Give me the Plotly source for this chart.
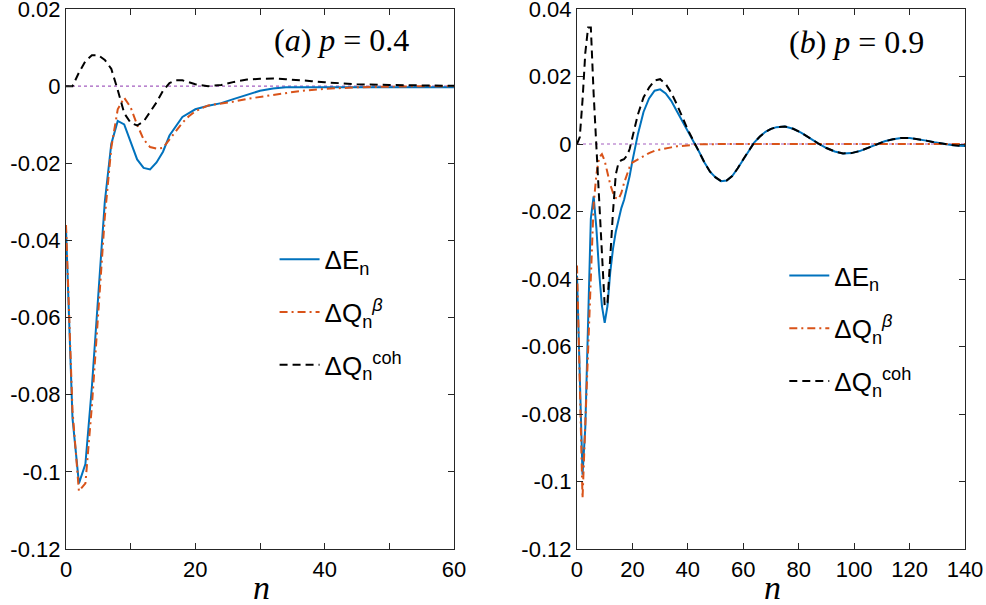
import plotly.graph_objects as go
from plotly.subplots import make_subplots

# ---- data: panel (a), p = 0.4 ----
n_a = [0, 1, 2, 3, 4, 5, 6, 7, 8, 9, 10, 11, 12, 13, 14, 15, 16, 17, 18, 19, 20,
       22, 24, 26, 28, 30, 32, 34, 36, 38, 40, 45, 50, 55, 60]
dE_a = [-0.037, -0.086, -0.103, -0.098, -0.078, -0.054, -0.030, -0.015, -0.009, -0.0099,
        -0.0145, -0.019, -0.0212, -0.0216, -0.0198, -0.017, -0.0128, -0.0105, -0.008, -0.007,
        -0.006, -0.0051, -0.0044, -0.0033, -0.0022, -0.0012, -0.0006, -0.0003, -0.0003, -0.0003,
        -0.0003, -0.0003, -0.0003, -0.0003, -0.0003]
dQb_a = [-0.036, -0.084, -0.105, -0.103, -0.083, -0.058, -0.034, -0.016, -0.006, -0.003,
         -0.0055, -0.010, -0.0138, -0.0158, -0.0162, -0.016, -0.0138, -0.0115, -0.0095, -0.0078,
         -0.0065, -0.005, -0.0045, -0.004, -0.0033, -0.0028, -0.0024, -0.0018, -0.0013, -0.001,
         -0.0007, -0.0003, -0.0001, 0.0, 0.0]
dQc_a = [0.0, 0.0, 0.0035, 0.0065, 0.008, 0.008, 0.0068, 0.0045, -0.001, -0.007,
         -0.0095, -0.0102, -0.0092, -0.0068, -0.0042, -0.0012, 0.0008, 0.0015, 0.0015, 0.001,
         0.0005, 0.0, 0.0003, 0.0011, 0.0017, 0.0019, 0.002, 0.0018, 0.0016, 0.0013,
         0.001, 0.0005, 0.0003, 0.0002, 0.0001]

# ---- data: panel (b), p = 0.9 ----
n_b = [0, 1, 2, 3, 4, 5, 6, 7, 8, 9, 10, 11, 12, 13, 14, 15, 16, 17, 18, 19, 20,
       22, 24, 26, 28, 30, 32, 34, 36, 38, 40, 42, 44, 46, 48, 50, 52, 54, 56, 58, 60,
       62, 64, 66, 68, 70, 72, 75, 78, 81, 84, 87, 90, 93, 96, 99, 102, 105, 108, 111,
       114, 117, 120, 123, 126, 129, 132, 135, 138, 140]
tail_b = [0.0042, 0.001, -0.0022, -0.0055, -0.0082, -0.0099, -0.011, -0.0108, -0.0095, -0.0072,
          -0.0045, -0.0018, 0.0005, 0.0022, 0.0036, 0.0045, 0.005, 0.0052, 0.0045, 0.0033,
          0.0017, 0.0002, -0.0012, -0.0022, -0.0028, -0.0027, -0.0021, -0.0012, -0.0002, 0.0008,
          0.0014, 0.0018, 0.0018, 0.0015, 0.001, 0.0005, 0.0, -0.0003, -0.0005, -0.0006]
dE_b = [-0.039, -0.072, -0.098, -0.084, -0.052, -0.022, -0.0155, -0.025, -0.038, -0.048,
        -0.053, -0.048, -0.038, -0.031, -0.026, -0.022, -0.019, -0.0165, -0.013, -0.0095,
        -0.005, 0.003, 0.0095, 0.0135, 0.0158, 0.0162, 0.015, 0.0128, 0.0098, 0.0068] + tail_b
dQb_b = [-0.036, -0.075, -0.105, -0.083, -0.062, -0.036, -0.018, -0.009, -0.004, -0.003,
         -0.005, -0.0085, -0.012, -0.0145, -0.016, -0.0163, -0.0145, -0.0115, -0.0088, -0.0068,
         -0.0055, -0.0045, -0.0036, -0.0027, -0.002, -0.0016, -0.0013, -0.001, -0.0007, -0.0005,
         -0.0003, -0.0002, -0.0001, -0.0001, 0.0, 0.0, 0.0, 0.0, 0.0, 0.0,
         0.0, 0.0, 0.0, 0.0, 0.0, 0.0, 0.0, 0.0, 0.0, 0.0,
         0.0, 0.0, 0.0, 0.0, 0.0, 0.0, 0.0, 0.0, 0.0, 0.0,
         0.0, 0.0, 0.0, 0.0, 0.0, 0.0, 0.0, 0.0, 0.0, 0.0]
dQc_b = [0.0, 0.002, 0.013, 0.027, 0.0345, 0.0345, 0.015, -0.001, -0.016, -0.035,
         -0.048, -0.047, -0.033, -0.02, -0.009, -0.0055, -0.0048, -0.0045, -0.0035, -0.0015,
         0.002, 0.0088, 0.0138, 0.0167, 0.0188, 0.0192, 0.0178, 0.0152, 0.0118, 0.008] + tail_b

zero_a = [[0, 60], [0, 0]]
zero_b = [[0, 140], [0, 0]]

names = ["ΔE<sub>n</sub>", "ΔQ<sub>n</sub><sup><i>β</i></sup>", "ΔQ<sub>n</sub><sup>coh</sup>"]
colors = ["#0072BD", "#D95319", "#000000"]
dashes = ["solid", "8px,4px,2px,4px", "8px,5px"]

xt_a = [0, 10, 20, 30, 40, 50, 60]
xl_a = ["0", "", "20", "", "40", "", "60"]
xt_b = [0, 20, 40, 60, 80, 100, 120, 140]
yt_a = [0.02, 0, -0.02, -0.04, -0.06, -0.08, -0.1, -0.12]
yl_a = ["0.02", "0", "-0.02", "-0.04", "-0.06", "-0.08", "-0.1", "-0.12"]
yt_b = [0.04, 0.02, 0, -0.02, -0.04, -0.06, -0.08, -0.1, -0.12]
yl_b = ["0.04", "0.02", "0", "-0.02", "-0.04", "-0.06", "-0.08", "-0.1", "-0.12"]

fig = make_subplots(rows=1, cols=2)

# zero reference lines
fig.add_trace(go.Scatter(x=zero_a[0], y=zero_a[1], mode="lines", showlegend=False,
                         line=dict(color="#A45EC0", width=1.2, dash="dot")), row=1, col=1)
fig.add_trace(go.Scatter(x=zero_b[0], y=zero_b[1], mode="lines", showlegend=False,
                         line=dict(color="#A45EC0", width=1.2, dash="dot")), row=1, col=2)

for i, (ys, nm, c, d) in enumerate(zip([dE_a, dQb_a, dQc_a], names, colors, dashes)):
    fig.add_trace(go.Scatter(x=n_a, y=ys, name=nm, mode="lines", legend="legend",
                             legendgroup="a%d" % i,
                             line=dict(color=c, width=2, dash=d)), row=1, col=1)
for i, (ys, nm, c, d) in enumerate(zip([dE_b, dQb_b, dQc_b], names, colors, dashes)):
    fig.add_trace(go.Scatter(x=n_b, y=ys, name=nm, mode="lines", legend="legend2",
                             legendgroup="b%d" % i,
                             line=dict(color=c, width=2, dash=d)), row=1, col=2)

axis_style = dict(showline=True, linecolor="#262626", linewidth=1.2, mirror="allticks",
                  ticks="inside", ticklen=6, tickcolor="#262626", showgrid=False, zeroline=False,
                  automargin=False, ticklabeloverflow="allow",
                  tickfont=dict(family="Liberation Sans, Arial", size=22, color="#000000"))

fig.update_xaxes(axis_style)
fig.update_yaxes(axis_style)
fig.update_xaxes(range=[0, 60], tickvals=xt_a, ticktext=xl_a, domain=[0, 0.4316], row=1, col=1)
fig.update_xaxes(range=[0, 140], tickvals=xt_b, domain=[0.5684, 1], row=1, col=2)
fig.update_yaxes(range=[-0.12, 0.02], tickvals=yt_a, ticktext=yl_a, row=1, col=1)
fig.update_yaxes(range=[-0.12, 0.04], tickvals=yt_b, ticktext=yl_b, row=1, col=2)

legend_style = dict(bgcolor="rgba(0,0,0,0)", borderwidth=0, xanchor="left", yanchor="top",
                    font=dict(family="Liberation Sans, Arial", size=26, color="#000000"),
                    itemwidth=40, tracegroupgap=16)
fig.update_layout(
    legend=dict(legend_style, x=0.232, y=0.58),
    legend2=dict(legend_style, x=0.799, y=0.55),
)

serif = dict(family="Liberation Serif, Times New Roman", size=32, color="#000000")
fig.add_annotation(text="(<i>a</i>) <i>p</i> = 0.4", x=0.3065, y=0.9426, xref="paper", yref="paper",
                   xanchor="center", yanchor="middle", showarrow=False, font=serif)
fig.add_annotation(text="(<i>b</i>) <i>p</i> = 0.9", x=0.879, y=0.939, xref="paper", yref="paper",
                   xanchor="center", yanchor="middle", showarrow=False, font=serif)
fig.add_annotation(text="<i>n</i>", x=0.218, y=-0.071, xref="paper", yref="paper",
                   xanchor="center", yanchor="middle", showarrow=False, font=dict(serif, size=34))
fig.add_annotation(text="<i>n</i>", x=0.786, y=-0.071, xref="paper", yref="paper",
                   xanchor="center", yanchor="middle", showarrow=False, font=dict(serif, size=34))

fig.update_layout(width=986, height=605, autosize=False,
                  margin=dict(l=66, r=21, t=9, b=56),
                  plot_bgcolor="white", paper_bgcolor="white")

fig.write_html("out.html", config={"displayModeBar": False},
               post_script="document.body.style.margin='0';")
